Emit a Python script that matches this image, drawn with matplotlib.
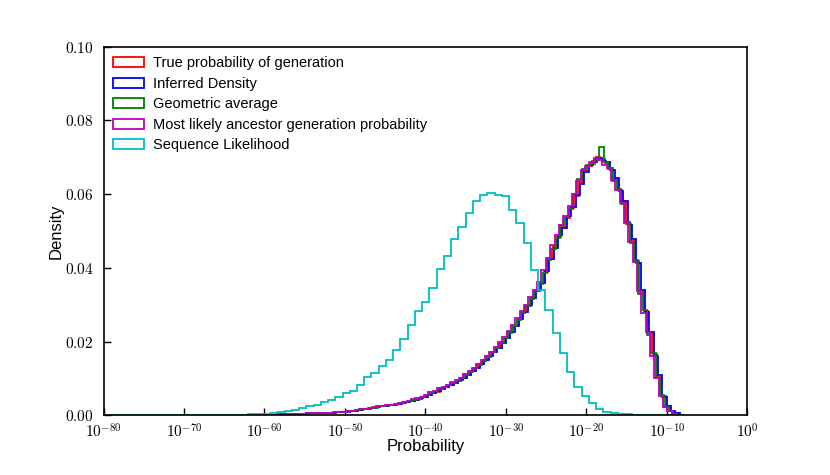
import numpy as np
import matplotlib
matplotlib.use("Agg")
import matplotlib.pyplot as plt
from matplotlib.ticker import FuncFormatter, FixedLocator, NullLocator

plt.rcParams['font.family'] = ['Liberation Sans', 'DejaVu Sans']
plt.rcParams['mathtext.fontset'] = 'cm'

# histogram heights (bins in log10 of probability)
main_width = 0.54
red_start = -62.0
blue_start = -61.85
green_start = -62.15
magenta_start = -62.3

red = [
    0.0001, 0.0001, 0.0002, 0.0002, 0.0002, 0.0002, 0.0002, 0.0003, 0.0003, 0.0003,
    0.0003, 0.0004, 0.0004, 0.0004, 0.0005, 0.0005, 0.0005, 0.0006, 0.0006, 0.0007,
    0.0008, 0.0009, 0.0010, 0.0011, 0.0013, 0.0015, 0.0016, 0.0018, 0.0019, 0.0022,
    0.0024, 0.0025, 0.0027, 0.0028, 0.0031, 0.0034, 0.0037, 0.0039, 0.0042, 0.0045,
    0.0049, 0.0055, 0.0061, 0.0062, 0.0073, 0.0077, 0.0082, 0.0088, 0.0094, 0.0101,
    0.0110, 0.0119, 0.0128, 0.0138, 0.0149, 0.0160, 0.0171, 0.0183, 0.0196, 0.0210,
    0.0225, 0.0242, 0.0262, 0.0280, 0.0297, 0.0318, 0.0338, 0.0358, 0.0390, 0.0425,
    0.0458, 0.0485, 0.0512, 0.0535, 0.0562, 0.0595, 0.0632, 0.0662, 0.0677, 0.0690,
    0.0700, 0.0695, 0.0684, 0.0670, 0.0640, 0.0612, 0.0578, 0.0520, 0.0472, 0.0418,
    0.0335, 0.0282, 0.0222, 0.0165, 0.0105, 0.0053, 0.0024, 0.0012, 0.0005, 0.0002]

blue = [
    0.0001, 0.0001, 0.0002, 0.0002, 0.0002, 0.0002, 0.0003, 0.0003, 0.0003, 0.0003,
    0.0003, 0.0004, 0.0004, 0.0005, 0.0005, 0.0005, 0.0006, 0.0006, 0.0006, 0.0007,
    0.0008, 0.0009, 0.0010, 0.0012, 0.0013, 0.0015, 0.0016, 0.0018, 0.0020, 0.0022,
    0.0024, 0.0026, 0.0027, 0.0029, 0.0031, 0.0034, 0.0037, 0.0040, 0.0042, 0.0046,
    0.0050, 0.0055, 0.0061, 0.0067, 0.0072, 0.0077, 0.0083, 0.0088, 0.0095, 0.0102,
    0.0110, 0.0120, 0.0128, 0.0139, 0.0149, 0.0161, 0.0172, 0.0183, 0.0197, 0.0211,
    0.0226, 0.0243, 0.0260, 0.0281, 0.0298, 0.0317, 0.0340, 0.0360, 0.0392, 0.0424,
    0.0455, 0.0488, 0.0508, 0.0540, 0.0565, 0.0598, 0.0628, 0.0660, 0.0680, 0.0688,
    0.0697, 0.0690, 0.0686, 0.0665, 0.0643, 0.0608, 0.0582, 0.0515, 0.0478, 0.0412,
    0.0340, 0.0280, 0.0226, 0.0160, 0.0110, 0.0050, 0.0026, 0.0011, 0.0005, 0.0002]

green = [
    0.0001, 0.0001, 0.0001, 0.0002, 0.0002, 0.0002, 0.0002, 0.0003, 0.0003, 0.0003,
    0.0003, 0.0004, 0.0004, 0.0004, 0.0005, 0.0005, 0.0005, 0.0006, 0.0007, 0.0007,
    0.0008, 0.0009, 0.0010, 0.0011, 0.0013, 0.0014, 0.0016, 0.0018, 0.0019, 0.0021,
    0.0024, 0.0025, 0.0027, 0.0029, 0.0031, 0.0033, 0.0037, 0.0039, 0.0042, 0.0045,
    0.0049, 0.0054, 0.0060, 0.0067, 0.0072, 0.0077, 0.0081, 0.0087, 0.0094, 0.0100,
    0.0109, 0.0118, 0.0128, 0.0137, 0.0148, 0.0159, 0.0171, 0.0182, 0.0195, 0.0209,
    0.0224, 0.0241, 0.0258, 0.0278, 0.0296, 0.0316, 0.0336, 0.0356, 0.0385, 0.0422,
    0.0450, 0.0480, 0.0515, 0.0538, 0.0560, 0.0600, 0.0640, 0.0668, 0.0680, 0.0682,
    0.0692, 0.0729, 0.0688, 0.0668, 0.0636, 0.0615, 0.0572, 0.0525, 0.0468, 0.0420,
    0.0330, 0.0285, 0.0218, 0.0168, 0.0100, 0.0055, 0.0022, 0.0012, 0.0004, 0.0002]

magenta = [
    0.0001, 0.0001, 0.0002, 0.0002, 0.0002, 0.0002, 0.0002, 0.0003, 0.0003, 0.0003,
    0.0004, 0.0004, 0.0004, 0.0004, 0.0005, 0.0005, 0.0006, 0.0006, 0.0006, 0.0007,
    0.0008, 0.0009, 0.0010, 0.0011, 0.0013, 0.0015, 0.0017, 0.0018, 0.0019, 0.0022,
    0.0024, 0.0025, 0.0027, 0.0029, 0.0031, 0.0034, 0.0036, 0.0039, 0.0043, 0.0046,
    0.0050, 0.0055, 0.0062, 0.0067, 0.0073, 0.0078, 0.0082, 0.0089, 0.0095, 0.0102,
    0.0111, 0.0120, 0.0129, 0.0139, 0.0150, 0.0161, 0.0172, 0.0185, 0.0198, 0.0212,
    0.0228, 0.0245, 0.0265, 0.0282, 0.0300, 0.0320, 0.0340, 0.0362, 0.0395, 0.0428,
    0.0462, 0.0490, 0.0515, 0.0540, 0.0568, 0.0600, 0.0635, 0.0665, 0.0675, 0.0688,
    0.0697, 0.0692, 0.0680, 0.0672, 0.0638, 0.0610, 0.0575, 0.0522, 0.0470, 0.0415,
    0.0338, 0.0278, 0.0225, 0.0162, 0.0102, 0.0052, 0.0023, 0.0011, 0.0004, 0.0001]

cyan_start = -80.0
cyan_width = 0.9
cyan = [
    0, 0, 0, 0, 0, 0, 0, 0, 0, 0,
    0, 0, 0.00005, 0.00005, 0.00005, 0.00005, 0.0001, 0.0001, 0.0002, 0.0002,
    0.0003, 0.0003, 0.0004, 0.0006, 0.0009, 0.0012, 0.0015, 0.0019, 0.0024, 0.0028,
    0.0036, 0.0042, 0.0049, 0.0060, 0.0067, 0.0082, 0.0103, 0.0114, 0.0135, 0.0150,
    0.0177, 0.0206, 0.0246, 0.0283, 0.0308, 0.0345, 0.0398, 0.0431, 0.0479, 0.0510,
    0.0548, 0.0582, 0.0597, 0.0602, 0.0597, 0.0595, 0.0558, 0.0522, 0.0468, 0.0395,
    0.0341, 0.0285, 0.0224, 0.0168, 0.0118, 0.0078, 0.0053, 0.0033, 0.0017, 0.0009,
    0.0006, 0.0004, 0.0003, 0.0002, 0.0001, 0.0001, 0, 0, 0, 0]

labels = ["True probability of generation", "Inferred Density", "Geometric average",
          "Most likely ancestor generation probability", "Sequence Likelihood"]
colors = ['r', 'b', 'g', (0.75, 0, 0.75), (0, 0.75, 0.75)]


def edges_for(start, width, n):
    return 10.0 ** (start + width * np.arange(n + 1))


series = [(red, red_start, main_width), (blue, blue_start, main_width),
          (green, green_start, main_width), (magenta, magenta_start, main_width),
          (cyan, cyan_start, cyan_width)]

fig = plt.figure(figsize=(8.3, 4.75), dpi=100)
ax = fig.add_axes([0.1247, 0.1257, 0.7757, 0.776])

for (vals, start, width), lab, col in zip(series, labels, colors):
    e = edges_for(start, width, len(vals))
    mids = np.sqrt(e[:-1] * e[1:])
    ax.hist(mids, bins=e, weights=vals, histtype='step', color=col,
            linewidth=1.3, label=lab)

ax.set_xscale('log')
ax.set_xlim(1e-80, 1e0)
ax.set_ylim(0, 0.10)

ax.xaxis.set_major_locator(FixedLocator([10.0 ** p for p in range(-80, 1, 10)]))
ax.xaxis.set_minor_locator(NullLocator())
ax.xaxis.set_major_formatter(FuncFormatter(lambda v, p: r'$10^{%d}$' % round(np.log10(v))))
ax.set_yticks([0.0, 0.02, 0.04, 0.06, 0.08, 0.10])
ax.yaxis.set_major_formatter(FuncFormatter(lambda v, p: r'$%.2f$' % v))

ax.tick_params(axis='x', direction='in', length=5, width=1, labelsize=11, pad=5,
               top=False)
ax.tick_params(axis='y', direction='in', length=5, width=1, labelsize=11, pad=7,
               right=False)
for s in ax.spines.values():
    s.set_linewidth(1.2)

ax.set_xlabel("Probability", fontsize=12, labelpad=-1)
ax.set_ylabel("Density", fontsize=12, labelpad=1)

ax.legend(loc='upper left', frameon=False, fontsize=10.5, handlelength=2.1,
          handletextpad=0.65, labelspacing=0.45, borderaxespad=0.25)

fig.savefig("out.png", dpi=100)
